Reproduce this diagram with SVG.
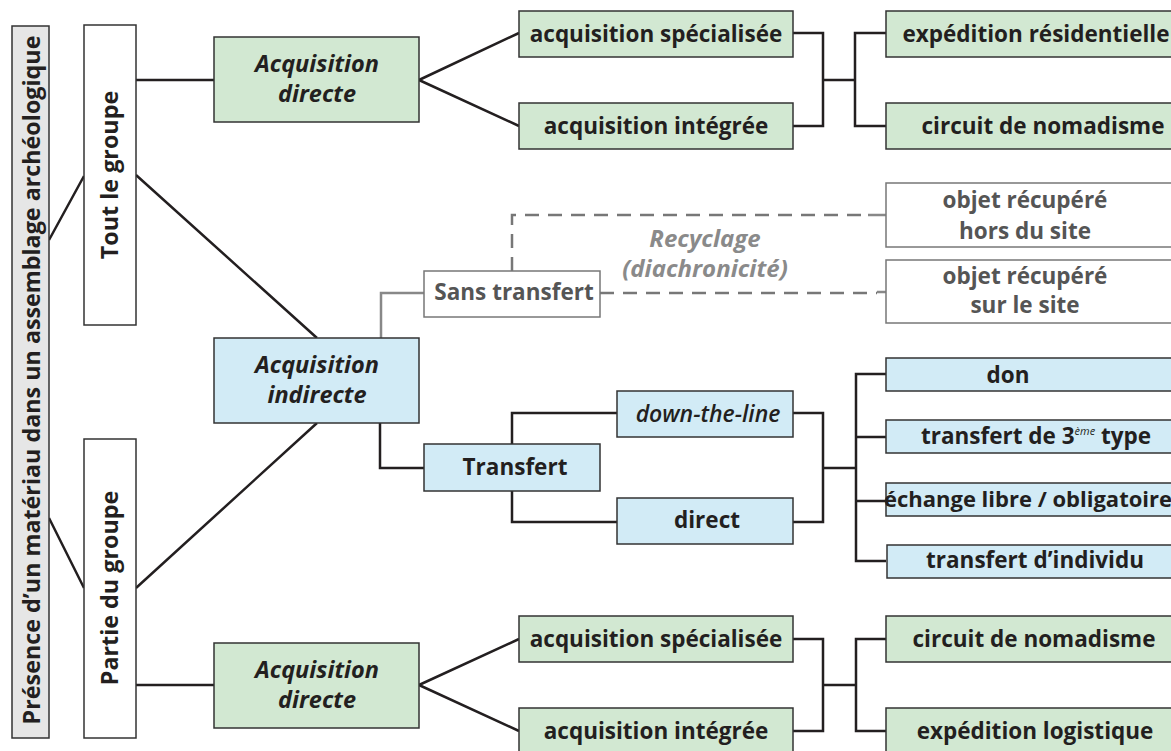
<svg xmlns="http://www.w3.org/2000/svg" width="1171" height="751" viewBox="0 0 1171 751">
<style>
.b{stroke:#333;stroke-width:1.5}
.g{fill:#d2e8d2}
.u{fill:#d2ebf6}
.w{fill:#fff}
.gs{fill:#fff;stroke:#777;stroke-width:1.5}
.t{font-family:'Open Sans','Liberation Sans',sans-serif;font-weight:700;font-size:22.5px;fill:#231f20;text-anchor:middle}
.i{font-style:italic;font-size:23.5px}
.v{font-size:23.3px}
.gt{fill:#555}
.rc{fill:#8a8a8a;font-size:24px}
.ln{fill:none;stroke:#231f20;stroke-width:2.5}
.gl{fill:none;stroke:#888;stroke-width:2.5}
.dl{fill:none;stroke:#777;stroke-width:2.5;stroke-dasharray:14 9}
</style>
<g id="connectors">
<path class="ln" d="M49,240 L84,176 M49,518 L84,588 M136,80 H214 M136,175 L317,338 M136,588 L317,423 M136,685 H214"/>
<path class="ln" d="M419,80 L519,33 M419,80 L519,126 M793,33 H823 V126 H793 M823,80 H855 M886,33 H855 V126 H886"/>
<path class="ln" d="M380,423 V468 H424 M617,413 H512 V444 M512,491 V522 H617 M793,413 H823 V522 H793 M823,468 H856"/>
<path class="ln" d="M886,374 H856 V561 H886 M856,437 H886 M856,501 H886"/>
<path class="ln" d="M419,685 L519,639 M419,685 L519,731 M793,639 H823 V731 H793 M823,685 H856 M886,639 H856 V731 H886"/>
<path class="gl" d="M381,338 V293 H424"/>
<path class="dl" d="M512,271 V215 H868 M600,293 H877"/>
<path class="gl" d="M868,215 H886 M877,292 H886"/>
</g>
<g id="n-presence"><rect class="b" x="12" y="26" width="37" height="712" fill="#e6e6e6"/><text class="t v" transform="translate(40,380) rotate(-90)">Présence d’un matériau dans un assemblage archéologique</text></g>
<g id="n-tout"><rect class="b w" x="84" y="25" width="52" height="300"/><text class="t v" transform="translate(118,175) rotate(-90)">Tout le groupe</text></g>
<g id="n-partie"><rect class="b w" x="84" y="439" width="52" height="299"/><text class="t v" transform="translate(118,588) rotate(-90)">Partie du groupe</text></g>
<g id="n-ad1"><rect class="b g" x="214" y="37" width="205" height="85"/><text class="t i" x="317" y="72">Acquisition</text><text class="t i" x="317" y="102">directe</text></g>
<g id="n-ai"><rect class="b u" x="214" y="338" width="205" height="85"/><text class="t i" x="317" y="373">Acquisition</text><text class="t i" x="317" y="403">indirecte</text></g>
<g id="n-ad2"><rect class="b g" x="214" y="643" width="205" height="85"/><text class="t i" x="317" y="678">Acquisition</text><text class="t i" x="317" y="708">directe</text></g>
<g id="n-spec1"><rect class="b g" x="519" y="11" width="274" height="46"/><text class="t" x="656" y="42">acquisition spécialisée</text></g>
<g id="n-integ1"><rect class="b g" x="519" y="103" width="274" height="46"/><text class="t" x="656" y="134">acquisition intégrée</text></g>
<g id="n-expres"><rect class="b g" x="886" y="11" width="300" height="46"/><text class="t" x="1036" y="42">expédition résidentielle</text></g>
<g id="n-circ1"><rect class="b g" x="886" y="103" width="300" height="46"/><text class="t" x="1043" y="134">circuit de nomadisme</text></g>
<g id="n-hors"><rect class="gs" x="886" y="183" width="300" height="64"/><text class="t gt" x="1025" y="208">objet récupéré</text><text class="t gt" x="1025" y="239">hors du site</text></g>
<g id="n-sur"><rect class="gs" x="886" y="260" width="300" height="63"/><text class="t gt" x="1025" y="284">objet récupéré</text><text class="t gt" x="1025" y="313">sur le site</text></g>
<g id="n-sans"><rect class="gs" x="424" y="271" width="176" height="46"/><text class="t gt" x="514" y="300">Sans transfert</text></g>
<g id="n-recyc"><text class="t i rc" x="705" y="247">Recyclage</text><text class="t i rc" x="705" y="277">(diachronicité)</text></g>
<g id="n-transfert"><rect class="b u" x="424" y="444" width="176" height="47"/><text class="t" x="515" y="475">Transfert</text></g>
<g id="n-dtl"><rect class="b u" x="617" y="391" width="176" height="46"/><text class="t i" x="708" y="422" style="font-weight:600;font-size:23px">down-the-line</text></g>
<g id="n-direct"><rect class="b u" x="617" y="498" width="176" height="46"/><text class="t" x="707" y="528">direct</text></g>
<g id="n-don"><rect class="b u" x="886" y="358" width="300" height="33"/><text class="t" x="1008" y="383">don</text></g>
<g id="n-3eme"><rect class="b u" x="886" y="420" width="300" height="33"/><text class="t" x="1036" y="444">transfert de 3<tspan dy="-9" style="font-size:11px;font-style:italic;font-weight:400">ème</tspan><tspan dy="9"> type</tspan></text></g>
<g id="n-echange"><rect class="b u" x="886" y="483" width="300" height="33"/><text class="t" x="1028" y="507" style="font-size:22px">échange libre / obligatoire</text></g>
<g id="n-individu"><rect class="b u" x="887" y="545" width="300" height="33"/><text class="t" x="1035" y="568">transfert d’individu</text></g>
<g id="n-spec2"><rect class="b g" x="519" y="616" width="274" height="46"/><text class="t" x="656" y="647">acquisition spécialisée</text></g>
<g id="n-integ2"><rect class="b g" x="519" y="708" width="274" height="50"/><text class="t" x="656" y="739">acquisition intégrée</text></g>
<g id="n-circ2"><rect class="b g" x="886" y="616" width="300" height="46"/><text class="t" x="1034" y="647">circuit de nomadisme</text></g>
<g id="n-explog"><rect class="b g" x="886" y="708" width="300" height="50"/><text class="t" x="1035" y="739">expédition logistique</text></g>
</svg>
